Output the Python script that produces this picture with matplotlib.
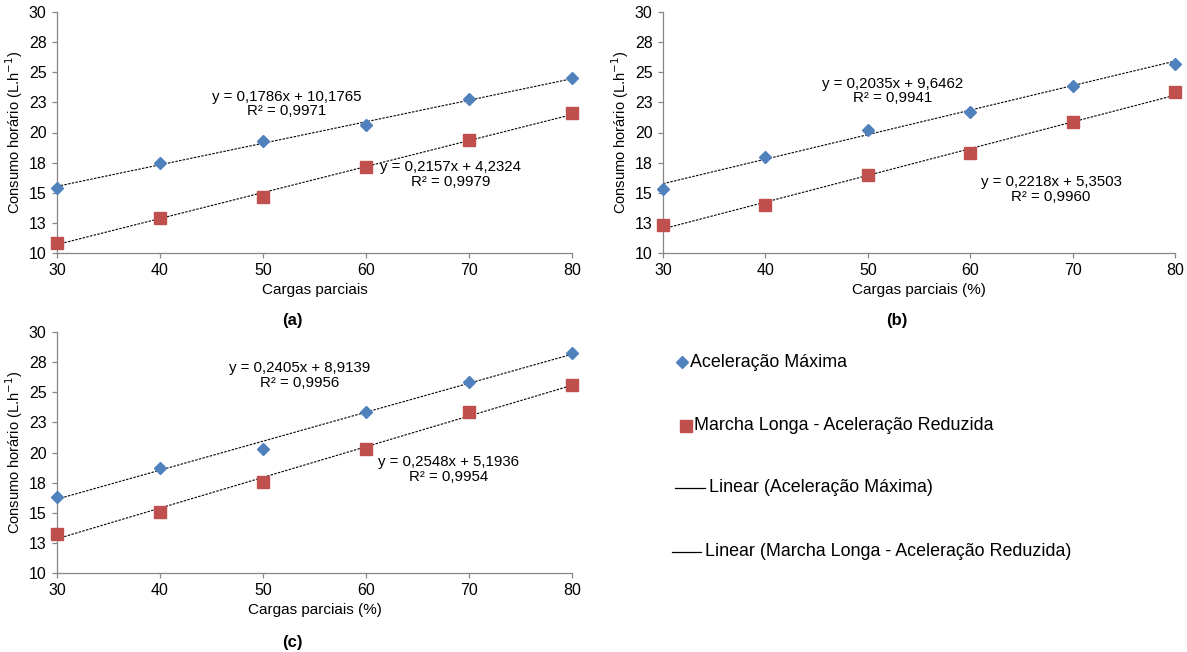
import matplotlib
matplotlib.use("Agg")
import matplotlib.pyplot as plt
from matplotlib.lines import Line2D
import numpy as np

plt.rcParams['font.family'] = ['Liberation Sans', 'DejaVu Sans']

# ---- data ----
cargas = [30, 40, 50, 60, 70, 80]

a_max = [15.4, 17.45, 19.3, 20.6, 22.75, 24.5]
a_red = [10.8, 12.9, 14.65, 17.1, 19.35, 21.65]
b_max = [15.35, 18.0, 20.2, 21.7, 23.9, 25.7]
b_red = [12.3, 13.95, 16.5, 18.3, 20.85, 23.35]
c_max = [16.3, 18.7, 20.3, 23.35, 25.85, 28.25]
c_red = [13.2, 15.1, 17.55, 20.25, 23.4, 25.6]

# trendline coefficients (slope, intercept) as reported
a_fit = [(0.1786, 10.1765), (0.2157, 4.2324)]
b_fit = [(0.2035, 9.6462), (0.2218, 5.3503)]
c_fit = [(0.2405, 8.9139), (0.2548, 5.1936)]

a_eq = ["y = 0,1786x + 10,1765\nR² = 0,9971", "y = 0,2157x + 4,2324\nR² = 0,9979"]
b_eq = ["y = 0,2035x + 9,6462\nR² = 0,9941", "y = 0,2218x + 5,3503\nR² = 0,9960"]
c_eq = ["y = 0,2405x + 8,9139\nR² = 0,9956", "y = 0,2548x + 5,1936\nR² = 0,9954"]

y_ticks = [10, 12.5, 15, 17.5, 20, 22.5, 25, 27.5, 30]
y_ticklabels = ["10", "13", "15", "18", "20", "23", "25", "28", "30"]
x_ticks = [30, 40, 50, 60, 70, 80]

serie_names = ["Aceleração Máxima", "Marcha Longa - Aceleração Reduzida",
               "Linear (Aceleração Máxima)", "Linear (Marcha Longa - Aceleração Reduzida)"]

BLUE = "#4F81BD"
RED = "#C0504D"
GRAY = "#868686"

W, H = 1187, 652
fig = plt.figure(figsize=(W / 100, H / 100), dpi=100)


def fx(px):
    return px / W


def fy(py):
    return 1 - py / H


def ax_at(l, t, r, b):
    return fig.add_axes([l / W, 1 - b / H, (r - l) / W, (b - t) / H])


def panel(ax, ymax, yred, fits, eqs, eqpos, xlabel):
    x = np.array(cargas, dtype=float)
    for (m, c) in fits:
        ax.plot(x, m * x + c, color="black", lw=0.8, ls=(0, (2.2, 1.2)), zorder=2)
    ax.plot(cargas, ymax, ls="none", marker="D", ms=6.5, color=BLUE, zorder=3, clip_on=False)
    ax.plot(cargas, yred, ls="none", marker="s", ms=8, color=RED, zorder=3, clip_on=False)
    ax.set_xlim(30, 80)
    ax.set_ylim(10, 30)
    ax.set_xticks(x_ticks)
    ax.set_yticks(y_ticks)
    ax.set_yticklabels(y_ticklabels)
    for s in ("top", "right"):
        ax.spines[s].set_visible(False)
    for s in ("left", "bottom"):
        ax.spines[s].set_color(GRAY)
        ax.spines[s].set_linewidth(0.9)
    ax.tick_params(axis="both", direction="out", length=3.5, width=0.9, color=GRAY,
                   labelsize=11.5, pad=4)
    ax.set_xlabel(xlabel, fontsize=11, labelpad=3)
    ax.set_ylabel("Consumo horário (L.h$^{-1}$)", fontsize=10.5, labelpad=3)
    ax.patch.set_alpha(0)
    for txt, (px, py) in zip(eqs, eqpos):
        ax.text(px, py, txt, ha="center", va="center", multialignment="center",
                fontsize=10.8, linespacing=1.05)


axa = ax_at(57, 12, 572, 253)
panel(axa, a_max, a_red, a_fit, a_eq, [(52.3, 22.35), (68.2, 16.5)], "Cargas parciais")
axb = ax_at(663, 12, 1175, 253)
panel(axb, b_max, b_red, b_fit, b_eq, [(52.4, 23.45), (67.9, 15.25)], "Cargas parciais (%)")
axc = ax_at(57, 332, 572, 573)
panel(axc, c_max, c_red, c_fit, c_eq, [(53.6, 26.4), (68.0, 18.6)], "Cargas parciais (%)")

fig.text(fx(292), fy(320), "(a)", ha="center", va="center", fontsize=12, fontweight="bold")
fig.text(fx(897), fy(320), "(b)", ha="center", va="center", fontsize=12, fontweight="bold")
fig.text(fx(292), fy(643), "(c)", ha="center", va="center", fontsize=12, fontweight="bold")

# ---- legend (drawn manually to match the Excel layout) ----
leg_rows = [
    dict(y=362.5, kind="D", hx=(682,), tx=690),
    dict(y=426, kind="s", hx=(686,), tx=694),
    dict(y=488, kind="line", hx=(675, 705), tx=709),
    dict(y=551.5, kind="line", hx=(672, 701), tx=705),
]
for row, name in zip(leg_rows, serie_names):
    if row["kind"] == "D":
        fig.add_artist(Line2D([fx(row["hx"][0])], [fy(row["y"])], ls="none", marker="D",
                              ms=6, color=BLUE, transform=fig.transFigure))
    elif row["kind"] == "s":
        fig.add_artist(Line2D([fx(row["hx"][0])], [fy(row["y"])], ls="none", marker="s",
                              ms=8.5, color=RED, transform=fig.transFigure))
    else:
        fig.add_artist(Line2D([fx(row["hx"][0]), fx(row["hx"][1])], [fy(row["y"]), fy(row["y"])],
                              color="black", lw=0.9, transform=fig.transFigure))
    fig.text(fx(row["tx"]), fy(row["y"]), name, ha="left", va="center", fontsize=12.9)

fig.savefig("out.png", dpi=100)
